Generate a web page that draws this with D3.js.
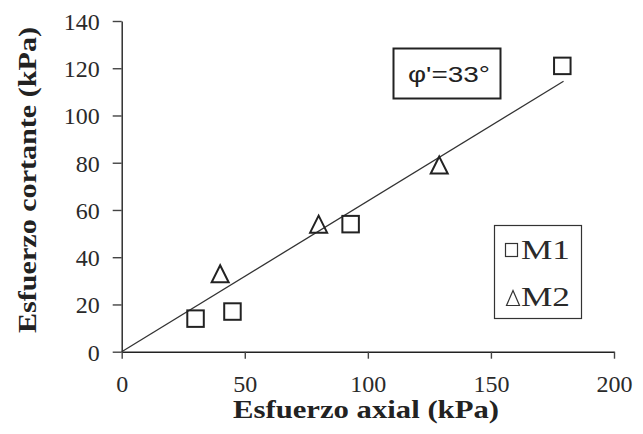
<!DOCTYPE html>
<html>
<head>
<meta charset="utf-8">
<script src="https://cdn.jsdelivr.net/npm/d3@7"></script>
<style>
  html, body { margin: 0; padding: 0; background: #fff; }
  svg { display: block; }
</style>
</head>
<body>
<svg id="chart" width="643" height="434"></svg>
<script>
// ---- data ----
const m1X = [30, 45, 93, 179];
const m1Y = [14, 17, 54, 121];
const m2X = [40, 80, 129];
const m2Y = [33, 54, 79];
const fitX = [0, 179.5];
const fitY = [0, 114.5];
const xTicks = [0, 50, 100, 150, 200];
const yTicks = [0, 20, 40, 60, 80, 100, 120, 140];
const xTitle = "Esfuerzo axial (kPa)";
const yTitle = "Esfuerzo cortante (kPa)";
const seriesNames = ["M1", "M2"];
const annotation = "φ'=33°";

// ---- layout ----
const svg = d3.select("#chart");
const x = d3.scaleLinear().domain([0, 200]).range([121.7, 614]);
const y = d3.scaleLinear().domain([0, 140]).range([351.7, 21]);
const serif = "Liberation Serif";
const sans = "Liberation Sans";

// axes
const yAxis = svg.append("g").attr("transform", `translate(${x(0)},0)`)
  .call(d3.axisLeft(y).tickValues(yTicks).tickSize(9).tickPadding(13).tickSizeOuter(0));
const xAxis = svg.append("g").attr("transform", `translate(0,${y(0)})`)
  .call(d3.axisBottom(x).tickValues(xTicks).tickSize(7).tickPadding(16).tickSizeOuter(0));
[xAxis, yAxis].forEach(a => {
  a.attr("font-family", null).attr("font-size", null);
  a.selectAll("path").attr("stroke", "#222").attr("stroke-width", 1.4);
  a.selectAll("line").attr("stroke", "#444").attr("stroke-width", 1.4);
  a.selectAll("text").style("font-family", serif).style("font-size", "24px").attr("fill", "#2a2a2a");
});
yAxis.selectAll("text").attr("dy", "0.35em");
xAxis.selectAll("text").attr("dy", "0.71em");

// fit line
svg.append("line")
  .attr("x1", x(fitX[0])).attr("y1", y(fitY[0]))
  .attr("x2", x(fitX[1])).attr("y2", y(fitY[1]))
  .attr("stroke", "#333").attr("stroke-width", 1.3);

// markers
const sq = 16.5;
svg.append("g").selectAll("rect").data(m1X.map((d, i) => [d, m1Y[i]])).join("rect")
  .attr("x", d => x(d[0]) - sq / 2).attr("y", d => y(d[1]) - sq / 2)
  .attr("width", sq).attr("height", sq)
  .attr("fill", "none").attr("stroke", "#222").attr("stroke-width", 2);

function triPath(cx, cy, w, h) {
  return `M${cx},${cy - h / 2}L${cx + w / 2},${cy + h / 2}L${cx - w / 2},${cy + h / 2}Z`;
}
svg.append("g").selectAll("path").data(m2X.map((d, i) => [d, m2Y[i]])).join("path")
  .attr("d", d => triPath(x(d[0]), y(d[1]), 17, 17))
  .attr("fill", "none").attr("stroke", "#222").attr("stroke-width", 2).attr("stroke-linejoin", "miter");

// axis titles
svg.append("text")
  .attr("x", 366).attr("y", 418)
  .attr("text-anchor", "middle")
  .style("font-family", serif).style("font-weight", "bold").style("font-size", "26px").attr("fill", "#222")
  .attr("textLength", 266).attr("lengthAdjust", "spacingAndGlyphs")
  .text(xTitle);
svg.append("text")
  .attr("transform", "translate(36,180) rotate(-90)")
  .attr("text-anchor", "middle")
  .style("font-family", serif).style("font-weight", "bold").style("font-size", "26px").attr("fill", "#222")
  .attr("textLength", 306).attr("lengthAdjust", "spacingAndGlyphs")
  .text(yTitle);

// annotation box
svg.append("rect")
  .attr("x", 393.5).attr("y", 48.5).attr("width", 107).attr("height", 50)
  .attr("fill", "#fff").attr("stroke", "#222").attr("stroke-width", 2);
svg.append("text")
  .attr("x", 449).attr("y", 81.5).attr("text-anchor", "middle")
  .style("font-family", sans).style("font-size", "22px").attr("fill", "#222")
  .attr("textLength", 82).attr("lengthAdjust", "spacingAndGlyphs")
  .text(annotation);

// legend
svg.append("rect")
  .attr("x", 494.5).attr("y", 225.5).attr("width", 87).attr("height", 93)
  .attr("fill", "#fff").attr("stroke", "#333").attr("stroke-width", 1.2);
svg.append("rect")
  .attr("x", 505.5).attr("y", 243.5).attr("width", 12).attr("height", 13)
  .attr("fill", "none").attr("stroke", "#333").attr("stroke-width", 1.2);
svg.append("path")
  .attr("d", triPath(513, 298, 13, 15))
  .attr("fill", "none").attr("stroke", "#333").attr("stroke-width", 1.2);
seriesNames.forEach((n, i) => {
  svg.append("text")
    .attr("x", 521).attr("y", i === 0 ? 258.5 : 306.3)
    .style("font-family", serif).style("font-size", "27px").attr("fill", "#2a2a2a")
    .attr("textLength", 49).attr("lengthAdjust", "spacingAndGlyphs")
    .text(n);
});
</script>
</body>
</html>
